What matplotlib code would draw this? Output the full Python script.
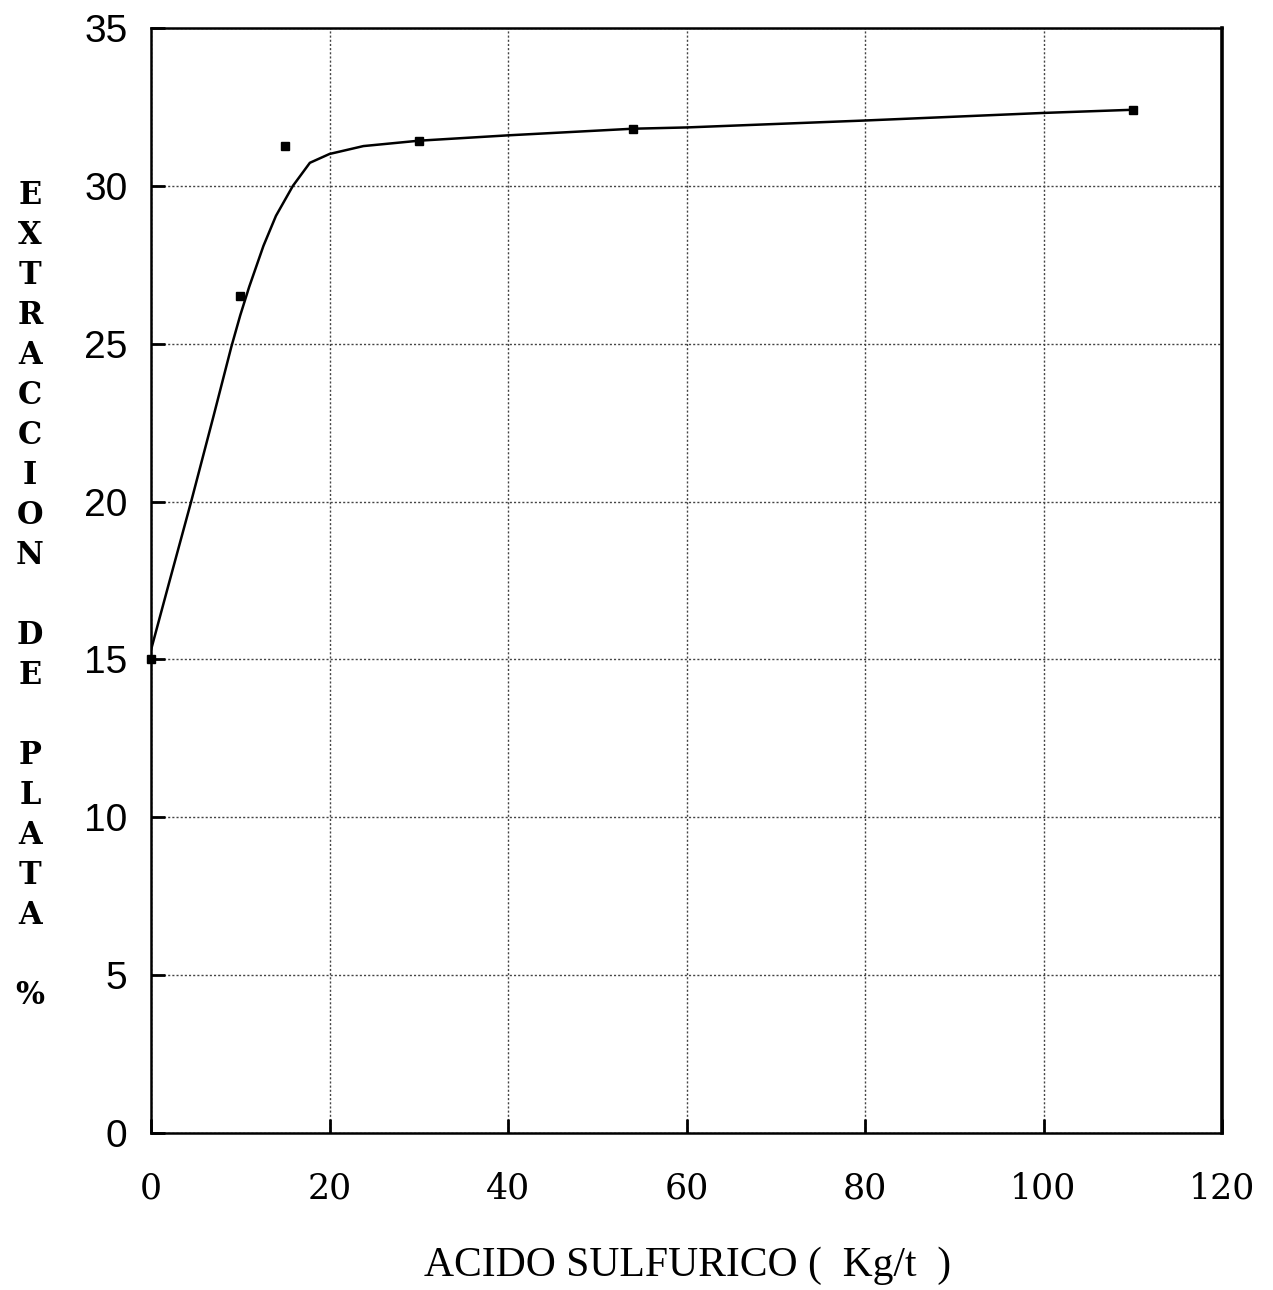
import matplotlib
matplotlib.use("Agg")
import matplotlib.pyplot as plt

# Measured points
acid = [0, 10, 15, 30, 54, 110]
extraction = [15.0, 26.5, 31.25, 31.43, 31.81, 32.41]

# Fitted curve
curve_x = [0, 2, 4.5, 7, 9, 10, 11, 12.6, 14, 15.9, 17.8, 20, 23.8, 30, 40, 54, 60, 80, 100, 110]
curve_y = [15.3, 17.4, 20.0, 22.7, 24.9, 25.9, 26.8, 28.1, 29.05, 30.0, 30.73, 31.01, 31.26, 31.43,
           31.60, 31.81, 31.85, 32.07, 32.31, 32.41]

xticks = [0, 20, 40, 60, 80, 100, 120]
yticks = [0, 5, 10, 15, 20, 25, 30, 35]

fig = plt.figure(figsize=(12.73, 12.90), dpi=100)
ax = fig.add_axes([151/1273, 1 - 1133/1290, (1222-151)/1273, (1133-28)/1290])

ax.plot(curve_x, curve_y, color="black", lw=1.8, zorder=3, solid_joinstyle="round")
ax.plot(acid, extraction, ls="none", marker="s", ms=6, color="black", zorder=4, clip_on=False)

ax.set_xlim(0, 120)
ax.set_ylim(0, 35)
ax.set_xticks(xticks)
ax.set_yticks(yticks)
ax.set_xticklabels([str(v) for v in xticks], fontfamily="DejaVu Serif", fontsize=25)
ax.set_yticklabels([str(v) for v in yticks], fontfamily="Liberation Sans", fontsize=28)
ax.tick_params(axis="y", direction="in", length=10, width=2, pad=17)
ax.tick_params(axis="x", direction="in", length=10, width=2, pad=28)

ax.grid(True, color="#444444", ls=(0, (1.5, 1.5)), lw=1.0)
ax.set_axisbelow(True)

for s in ["left", "bottom", "top"]:
    ax.spines[s].set_linewidth(1.8)
ax.spines["right"].set_linewidth(2.6)

fig.text(688/1273, 1 - 1266/1290, "ACIDO SULFURICO (  Kg/t  )", ha="center", va="center",
         fontfamily="Liberation Serif", fontsize=30)

ylab = "E\nX\nT\nR\nA\nC\nC\nI\nO\nN\n\nD\nE\n\nP\nL\nA\nT\nA\n\n%"
fig.text(30/1273, 1 - 596/1290, ylab, ha="center", va="center", fontfamily="DejaVu Serif",
         fontsize=22, fontweight="bold", linespacing=1.375)

fig.savefig("out.png", dpi=100)
